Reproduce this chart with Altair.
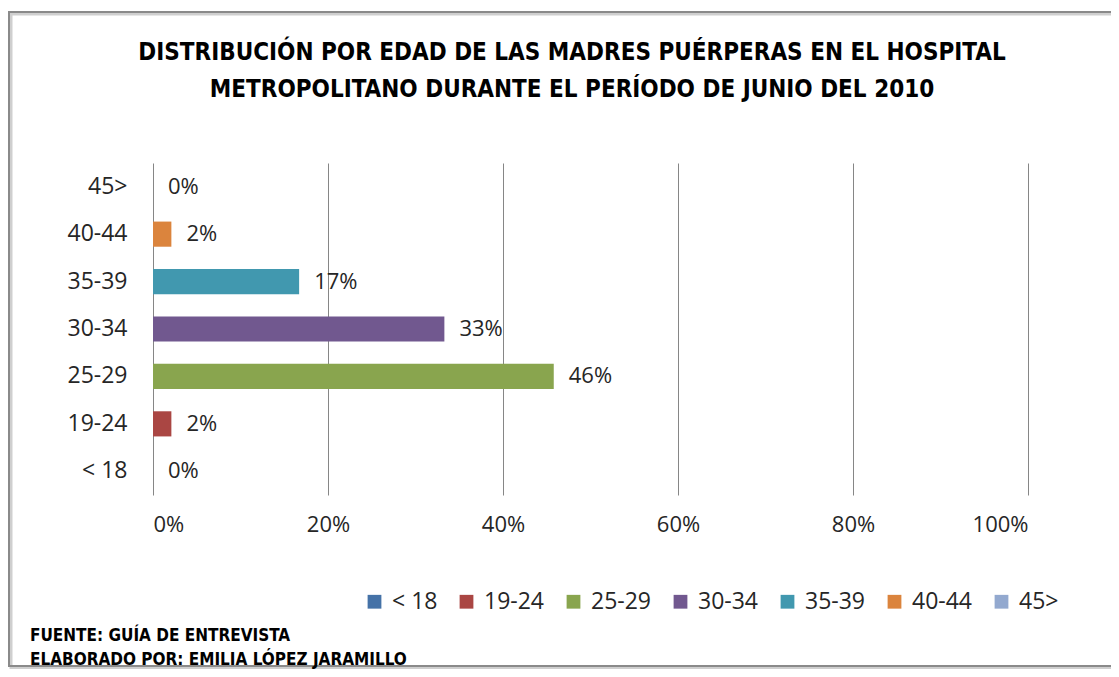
import altair as alt
import pandas as pd

categories = ["< 18", "19-24", "25-29", "30-34", "35-39", "40-44", "45>"]
values = [0.0, 0.021, 0.458, 0.333, 0.167, 0.021, 0.0]
colors = ["#4572A7", "#AA4643", "#89A54E", "#71588F", "#4198AF", "#DB843D", "#93A9CF"]
x_ticks = [0, 0.2, 0.4, 0.6, 0.8, 1.0]
title_lines = [
    "DISTRIBUCIÓN POR EDAD DE LAS MADRES PUÉRPERAS EN EL HOSPITAL",
    "METROPOLITANO DURANTE EL PERÍODO DE JUNIO DEL 2010",
]
footer_lines = ["FUENTE: GUÍA DE ENTREVISTA", "ELABORADO POR: EMILIA LÓPEZ JARAMILLO"]

FONT = "Open Sans, sans-serif"
TFONT = "Liberation Sans Narrow, Arial Narrow, DejaVu Sans Condensed, sans-serif"
TXT = "#262626"

df = pd.DataFrame({"edad": categories, "pct": values})
y_order = categories[::-1]

y_enc = alt.Y(
    "edad:N",
    sort=y_order,
    scale=alt.Scale(paddingInner=0.47, paddingOuter=0.235),
    axis=alt.Axis(title=None, domain=False, ticks=False, labelPadding=26,
                  labelFontSize=23, labelColor=TXT, labelFont=FONT),
)
x_enc = alt.X(
    "pct:Q",
    scale=alt.Scale(domain=[0, 1]),
    axis=alt.Axis(values=x_ticks, format=".0%", title=None, domain=False, ticks=False,
                  grid=True, gridColor="#868686", gridWidth=1, labelPadding=19,
                  labelFontSize=22, labelColor=TXT, labelFont=FONT),
)

base = alt.Chart(df)

bars = base.mark_bar().encode(
    y=y_enc,
    x=x_enc,
    color=alt.Color(
        "edad:N",
        scale=alt.Scale(domain=categories, range=colors),
        legend=alt.Legend(
            orient="none", legendX=210, legendY=427, direction="horizontal", columns=7,
            title=None, symbolType="square", symbolSize=190, symbolStrokeWidth=0,
            labelFontSize=23, labelFont=FONT, labelColor=TXT,
            columnPadding=17, labelOffset=6,
        ),
    ),
)

labels = base.mark_text(align="left", baseline="middle", dx=15, fontSize=22,
                        font=FONT, color=TXT).encode(
    y=alt.Y("edad:N", sort=y_order),
    x="pct:Q",
    text=alt.Text("pct:Q", format=".0%"),
)

one = pd.DataFrame({"k": [0]})

shadow = alt.Chart(one).mark_rect(
    fillOpacity=0, stroke="#cfcfcf", strokeWidth=3
).encode(x=alt.value(-142), x2=alt.value(962), y=alt.value(-149), y2=alt.value(505))

frame = alt.Chart(one).mark_rect(
    fillOpacity=0, stroke="#8a8a8a", strokeWidth=2
).encode(x=alt.value(-144), x2=alt.value(959), y=alt.value(-151), y2=alt.value(503))

title = alt.Chart(one).mark_text(
    align="center", baseline="middle", fontSize=24, font=TFONT, fontWeight="bold",
    color="black", lineHeight=37,
).encode(x=alt.value(419), y=alt.value(-110), text=alt.value(title_lines))

footer = alt.Chart(one).mark_text(
    align="left", baseline="middle", fontSize=17, font=TFONT, fontWeight="bold",
    color="black", lineHeight=24,
).encode(x=alt.value(-123), y=alt.value(473), text=alt.value(footer_lines))

chart = alt.layer(shadow, frame, title, bars, labels, footer).properties(
    width=875,
    height=332,
    padding={"left": 145, "top": 155, "right": 83, "bottom": 174},
    autosize=alt.AutoSizeParams(type="none"),
).configure_view(strokeWidth=0)

chart.save("out.html", embed_options={"renderer": "svg", "actions": False})
